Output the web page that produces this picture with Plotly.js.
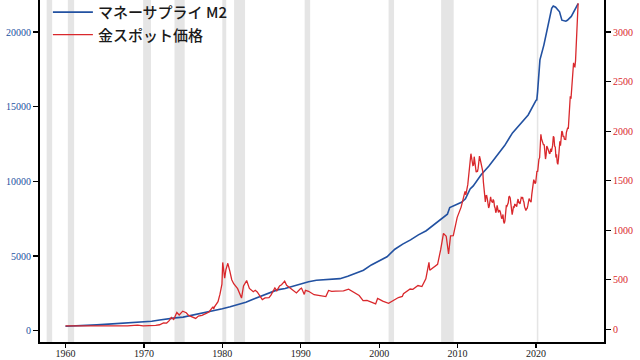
<!DOCTYPE html>
<html>
<head>
<meta charset="utf-8">
<script src="https://cdn.plot.ly/plotly-3.0.1.min.js"></script>
<style>html,body{margin:0;padding:0;background:#fff;}#chart{width:640px;height:360px;}</style>
</head>
<body>
<div id="chart"></div>
<script>
// M2 money supply (billions USD), decimal years
const m2Years = [1960,1961,1962,1963,1964,1965,1966,1967,1968,1969,1970,1971,1972,1973,1974,1975,1976,1977,1978,1979,1980,1981,1982,1983,1984,1985,1986,1987,1988,1989,1990,1991,1992,1993,1994,1995,1996,1997,1998,1999,2000,2001,2002,2003,2004,2005,2006,2007,2008,2008.7,2009,2009.5,2010,2010.5,2011,2011.6,2012,2013,2014,2015,2016,2017,2018,2019,2020,2020.1,2020.2,2020.3,2020.4,2020.5,2021,2021.5,2022,2022.2,2022.5,2023,2023.3,2023.8,2024,2024.5,2025,2025.37];
const m2Values = [300,312,335,363,393,425,460,481,526,569,589,628,713,805,861,911,1016,1152,1271,1368,1474,1600,1757,1910,2127,2312,2498,2734,2832,2990,3165,3279,3379,3431,3482,3486,3644,3823,4047,4405,4652,4950,5458,5800,6083,6422,6698,7090,7500,7800,8250,8350,8470,8600,8830,9500,9700,10450,11030,11700,12400,13250,13880,14450,15430,15450,16000,17000,17800,18140,19130,20460,21600,21750,21670,21360,20800,20730,20790,21050,21500,21900];

// Gold spot price (USD/oz), decimal years
const goldYears = [1960,1960.8,1961,1967.9,1968.3,1968.5,1969.2,1969.9,1970.5,1971,1971.5,1972,1972.5,1972.9,1973.2,1973.5,1973.8,1974.2,1974.5,1974.95,1975.4,1975.7,1976,1976.6,1976.95,1977.4,1977.95,1978.3,1978.8,1978.9,1979,1979.45,1979.7,1979.8,1979.95,1980.05,1980.2,1980.3,1980.45,1980.7,1980.95,1981.2,1981.45,1981.7,1981.95,1982.45,1982.7,1983.1,1983.45,1983.95,1984.2,1984.45,1984.95,1985.1,1985.45,1985.95,1986.2,1986.7,1986.95,1987.3,1987.55,1987.95,1988.2,1988.7,1989.45,1989.95,1990.1,1990.45,1990.6,1991,1991.7,1992.45,1992.95,1993.2,1993.55,1993.95,1994.45,1995.45,1996.1,1996.95,1997.45,1997.95,1998.45,1999.55,1999.8,2000.1,2000.45,2001.2,2001.7,2002.45,2002.95,2003.1,2003.95,2004.3,2004.95,2005.45,2005.95,2006.35,2006.45,2006.95,2007.45,2007.85,2008.2,2008.55,2008.8,2008.85,2009.1,2009.45,2009.95,2010.45,2010.95,2011.05,2011.3,2011.6,2011.7,2011.95,
  2012.04,2012.12,2012.21,2012.29,2012.37,2012.46,2012.54,2012.62,2012.71,2012.79,2012.87,2012.96,
  2013.04,2013.12,2013.21,2013.29,2013.37,2013.46,2013.54,2013.62,2013.71,2013.79,2013.87,2013.96,
  2014.04,2014.12,2014.21,2014.29,2014.37,2014.46,2014.54,2014.62,2014.71,2014.79,2014.87,2014.96,
  2015.04,2015.12,2015.21,2015.29,2015.37,2015.46,2015.54,2015.62,2015.71,2015.79,2015.87,2015.96,
  2016.04,2016.12,2016.21,2016.29,2016.37,2016.46,2016.54,2016.62,2016.71,2016.79,2016.87,2016.96,
  2017.04,2017.12,2017.21,2017.29,2017.37,2017.46,2017.54,2017.62,2017.71,2017.79,2017.87,2017.96,
  2018.04,2018.12,2018.21,2018.29,2018.37,2018.46,2018.54,2018.62,2018.71,2018.79,2018.87,2018.96,
  2019.04,2019.12,2019.21,2019.29,2019.37,2019.46,2019.54,2019.62,2019.71,2019.79,2019.87,2019.96,
  2020.04,2020.12,2020.21,2020.29,2020.37,2020.46,2020.54,2020.62,2020.71,2020.79,2020.87,2020.96,
  2021.04,2021.12,2021.21,2021.29,2021.37,2021.46,2021.54,2021.62,2021.71,2021.79,2021.87,2021.96,
  2022.04,2022.12,2022.21,2022.29,2022.37,2022.46,2022.54,2022.62,2022.71,2022.79,2022.87,2022.96,
  2023.04,2023.12,2023.21,2023.29,2023.37,2023.46,2023.54,2023.62,2023.71,2023.79,2023.87,2023.96,
  2024.04,2024.12,2024.21,2024.29,2024.37,2024.46,2024.54,2024.62,2024.71,2024.79,2024.87,2024.96,
  2025.04,2025.12,2025.21,2025.29,2025.37];
const goldValues = [35.3,37,35.5,35.2,38,40,43,35,35.5,37.5,40,46,64,63,85,120,100,170,145,183,167,140,131,110,134,141,161,175,227,206,227,279,355,392,456,675,553,517,600,666,590,500,460,428,410,315,438,492,413,380,394,377,320,300,317,320,345,418,390,438,450,486,444,412,367,409,416,352,394,384,349,340,334,330,392,383,385,387,405,369,341,289,292,256,311,300,285,263,283,321,332,359,407,404,442,431,510,676,596,629,656,806,968,939,812,760,943,945,1130,1233,1391,1356,1460,1756,1772,1652,
  1656,1742,1673,1650,1585,1596,1594,1626,1744,1747,1721,1684,
  1671,1627,1593,1487,1414,1343,1286,1347,1349,1316,1275,1225,
  1244,1300,1336,1299,1287,1279,1311,1296,1239,1222,1176,1200,
  1251,1227,1179,1198,1199,1181,1131,1117,1125,1159,1086,1068,
  1097,1200,1246,1242,1260,1276,1337,1341,1326,1266,1238,1157,
  1192,1234,1231,1266,1246,1260,1237,1283,1315,1280,1282,1265,
  1331,1331,1325,1335,1303,1282,1238,1202,1199,1215,1221,1250,
  1291,1320,1300,1285,1284,1359,1413,1500,1510,1495,1471,1480,
  1560,1597,1591,1683,1715,1732,1847,1968,1921,1900,1866,1858,
  1867,1808,1718,1760,1850,1834,1807,1785,1775,1777,1822,1790,
  1817,1856,1948,1937,1849,1837,1733,1765,1681,1665,1726,1797,
  1898,1854,1912,2000,1992,1942,1951,1918,1916,1916,1985,2031,
  2034,2023,2160,2331,2351,2326,2398,2470,2571,2690,2651,2648,
  2709,2894,2983,3230,3290];

// US recessions
const recessionStarts = [1957.6,1960.3,1969.9,1973.9,1980.0,1981.5,1990.5,2001.2,2007.9,2020.1];
const recessionEnds   = [1958.3,1961.1,1970.9,1975.2,1980.5,1982.9,1991.2,2001.9,2009.5,2020.3];

const xTicks = [1960,1970,1980,1990,2000,2010,2020];
const leftTicks = [0,5000,10000,15000,20000];
const rightTicks = [0,500,1000,1500,2000,2500,3000];

const blue = '#2251a1';
const red = '#d9282c';
const serif = 'Liberation Serif, DejaVu Serif, serif';

const shapes = recessionStarts.map((s, i) => ({
  type: 'rect', xref: 'x', yref: 'paper', x0: s, x1: recessionEnds[i], y0: 0, y1: 1,
  fillcolor: '#e5e5e5', line: {width: 0}, layer: 'below'
}));

const traces = [
  {x: m2Years, y: m2Values, type: 'scatter', mode: 'lines', name: 'マネーサプライ M2',
   line: {color: blue, width: 1.6}, yaxis: 'y'},
  {x: goldYears, y: goldValues, type: 'scatter', mode: 'lines', name: '金スポット価格',
   line: {color: red, width: 1.3}, yaxis: 'y2'}
];

const layout = {
  width: 640, height: 360,
  margin: {l: 40, r: 36, t: 0, b: 18, pad: 0, autoexpand: false},
  paper_bgcolor: '#fff', plot_bgcolor: '#fff',
  showlegend: true,
  legend: {x: 0.014, y: 1.012, xanchor: 'left', yanchor: 'top', bgcolor: 'rgba(0,0,0,0)',
    itemwidth: 40,
    font: {family: 'Noto Sans CJK JP, Liberation Serif, serif', size: 15, color: '#1a1a1a', weight: 500},
    tracegroupgap: 0},
  xaxis: {range: [1956.75, 2028.67], tickvals: xTicks, ticktext: xTicks.map(String),
    showgrid: false, zeroline: false, showline: true, linecolor: '#000', linewidth: 2,
    ticks: 'outside', ticklen: 4, tickwidth: 1.2, tickcolor: '#000', ticklabelstandoff: -3,
    tickfont: {family: serif, size: 10, color: '#222'}},
  yaxis: {range: [-757, 22150], tickvals: leftTicks, ticktext: leftTicks.map(String),
    showgrid: false, zeroline: false, showline: true, linecolor: '#000', linewidth: 2,
    ticks: 'outside', ticklen: 5, tickwidth: 1.2, tickcolor: '#000',
    tickfont: {family: serif, size: 10, color: blue}},
  yaxis2: {range: [-128, 3323], tickvals: rightTicks, ticktext: rightTicks.map(String),
    overlaying: 'y', side: 'right',
    showgrid: false, zeroline: false, showline: true, linecolor: '#000', linewidth: 2,
    ticks: 'outside', ticklen: 5, tickwidth: 1.2, tickcolor: '#000',
    tickfont: {family: serif, size: 10, color: red}},
  shapes: shapes
};

Plotly.newPlot('chart', traces, layout, {staticPlot: true, displayModeBar: false});
</script>
</body>
</html>
